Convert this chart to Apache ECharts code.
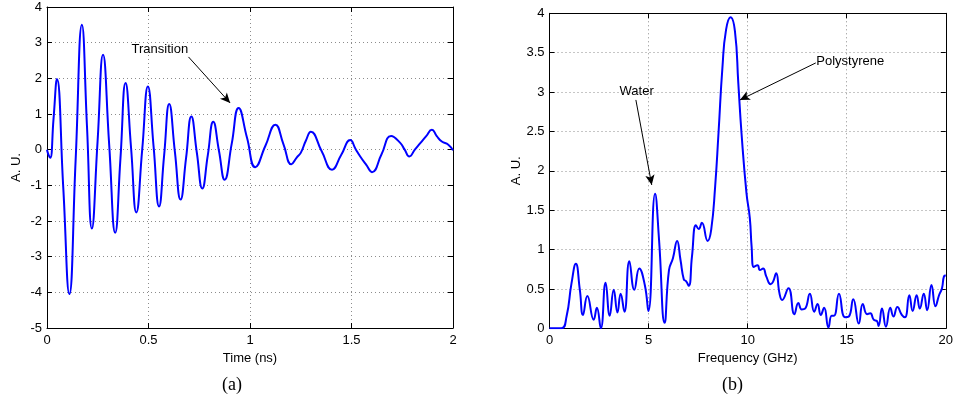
<!DOCTYPE html>
<html>
<head>
<meta charset="utf-8">
<script src="https://cdn.jsdelivr.net/npm/echarts@6/dist/echarts.min.js"></script>
<style>
  html, body { margin: 0; padding: 0; background: #fff; }
  #chart { width: 956px; height: 399px; }
</style>
</head>
<body>
<div id="chart"></div>
<script>
// (a) time signal
const timeNs = [0.000, 0.008, 0.016, 0.032, 0.049, 0.080, 0.110, 0.141, 0.172, 0.197, 0.221, 0.249, 0.276, 0.306,
  0.336, 0.362, 0.387, 0.414, 0.440, 0.469, 0.497, 0.525, 0.552, 0.577, 0.602, 0.630, 0.658, 0.685, 0.711, 0.738,
  0.765, 0.792, 0.819, 0.847, 0.875, 0.910, 0.944, 0.985, 1.026, 1.076, 1.125, 1.165, 1.204, 1.230, 1.250, 1.275,
  1.300, 1.352, 1.404, 1.449, 1.494, 1.520, 1.543, 1.572, 1.601, 1.648, 1.695, 1.740, 1.762, 1.785, 1.812, 1.840,
  1.868, 1.896, 1.920, 1.945, 1.977, 2.000];
const signalAU = [0.00, -0.15, -0.23, 0.85, 1.98, -1.05, -4.05, -0.30, 3.50, 0.65, -2.21, 0.22, 2.66, 0.17,
  -2.33, -0.23, 1.87, 0.06, -1.76, 0.00, 1.77, 0.09, -1.59, -0.16, 1.28, -0.06, -1.40, -0.24, 0.93, -0.08,
  -1.09, -0.16, 0.78, -0.03, -0.84, 0.17, 1.17, 0.34, -0.49, 0.11, 0.70, 0.15, -0.41, -0.22, -0.09, 0.25,
  0.50, -0.03, -0.56, -0.15, 0.27, 0.02, -0.19, -0.42, -0.63, -0.13, 0.38, 0.19, 0.00, -0.19, 0.00, 0.19,
  0.38, 0.56, 0.38, 0.23, 0.14, -0.02];

// (b) spectrum
const freqGHz = [0, 0.6, 0.86, 1.11, 1.33, 1.53, 1.69, 1.91, 2.23, 2.39, 2.59, 2.83, 3.04, 3.24, 3.43, 3.59, 3.78,
  4.03, 4.28, 4.53, 4.81, 4.99, 5.33, 5.53, 5.81, 6.03, 6.23, 6.44, 6.61, 6.78, 6.89, 7.03, 7.19, 7.39, 7.53,
  7.69, 7.98, 8.16, 8.36, 8.53, 8.73, 8.91, 9.14, 9.36, 9.53, 9.69, 9.94, 10.11, 10.2, 10.31, 10.5, 10.62,
  10.78, 10.94, 11.16, 11.28, 11.44, 11.61, 11.74, 12.06, 12.36, 12.56, 12.73, 12.9, 13.14, 13.36, 13.53,
  13.69, 13.86, 14.08, 14.24, 14.36, 14.61, 14.91, 15.11, 15.33, 15.61, 15.81, 16.03, 16.19, 16.36, 16.53,
  16.61, 16.78, 16.98, 17.2, 17.36, 17.56, 17.78, 17.94, 18.16, 18.33, 18.53, 18.69, 18.89, 19.06, 19.28,
  19.48, 19.66, 19.81, 19.91, 20];
const spectrumAU = [0, 0, 0.15, 0.57, 0.82, 0.49, 0.17, 0.41, 0.11, 0.26, 0.0, 0.58, 0.16, 0.49, 0.20, 0.44, 0.21,
  0.85, 0.49, 0.76, 0.55, 0.22, 1.71, 1.12, 0.07, 0.74, 0.89, 1.11, 0.87, 0.62, 0.60, 0.54, 0.91, 1.31, 1.26,
  1.34, 1.11, 1.25, 1.80, 2.48, 3.32, 3.79, 3.95, 3.77, 3.11, 2.48, 1.72, 1.40, 1.04, 0.78, 0.80, 0.74,
  0.76, 0.66, 0.56, 0.59, 0.70, 0.44, 0.36, 0.51, 0.18, 0.32, 0.24, 0.25, 0.44, 0.21, 0.31,
  0.17, 0.26, 0.01, 0.16, 0.16, 0.44, 0.14, 0.15, 0.37, 0.06, 0.31, 0.18, 0.19, 0.11, 0.09,
  0.03, 0.25, 0.02, 0.26, 0.15, 0.27, 0.17, 0.14, 0.42, 0.22, 0.42, 0.25, 0.44, 0.23, 0.55,
  0.28, 0.42, 0.51, 0.66, 0.67];

// annotations: [text, textX, textY, arrowFromX, arrowFromY, arrowToX, arrowToY]
const notesA = [['Transition', 0.556, 2.82, 0.697, 2.60, 0.902, 1.31]];
const notesB = [['Water', 4.4, 3.01, 4.36, 2.90, 5.16, 1.82],
                ['Polystyrene', 15.18, 3.39, 13.44, 3.37, 9.61, 2.90]];

const font = 'Liberation Sans, Arial, sans-serif';
const gridLine = { show: true, lineStyle: { color: '#8c8c8c', width: 1, type: [1, 3] } };
const frame = { show: true, onZero: false, lineStyle: { color: '#000', width: 1 } };
const tickIn = { show: true, inside: true, length: 5, lineStyle: { color: '#000' } };
const lbl = { color: '#000', fontSize: 13, fontFamily: font };

function xAxes(gi, max, interval, name) {
  return [
    { type: 'value', gridIndex: gi, min: 0, max: max, interval: interval, position: 'bottom',
      axisLine: frame, axisTick: tickIn, splitLine: gridLine,
      axisLabel: Object.assign({ margin: 6 }, lbl),
      name: name, nameLocation: 'middle', nameGap: 21, nameTextStyle: lbl },
    { type: 'value', gridIndex: gi, min: 0, max: max, interval: interval, position: 'top',
      axisLine: frame, axisTick: tickIn, splitLine: { show: false }, axisLabel: { show: false } }
  ];
}
function yAxes(gi, min, max, interval, gap) {
  return [
    { type: 'value', gridIndex: gi, min: min, max: max, interval: interval, position: 'left',
      axisLine: frame, axisTick: tickIn, splitLine: gridLine,
      axisLabel: Object.assign({ margin: 5 }, lbl),
      name: 'A. U.', nameLocation: 'middle', nameGap: gap, nameTextStyle: lbl },
    { type: 'value', gridIndex: gi, min: min, max: max, interval: interval, position: 'right',
      axisLine: frame, axisTick: tickIn, splitLine: { show: false }, axisLabel: { show: false } }
  ];
}

function notes(list) {
  return {
    markLine: {
      silent: true, symbol: ['none', 'arrow'], symbolSize: [7, 10],
      label: { show: false },
      lineStyle: { color: '#000', width: 1, type: 'solid' },
      data: list.map(n => [{ coord: [n[3], n[4]] }, { coord: [n[5], n[6]] }])
    },
    markPoint: {
      silent: true, symbol: 'rect', symbolSize: 1, itemStyle: { color: 'transparent' },
      label: Object.assign({ show: true, position: 'inside', formatter: p => p.name }, lbl),
      data: list.map(n => ({ name: n[0], coord: [n[1], n[2]] }))
    }
  };
}

const chart = echarts.init(document.getElementById('chart'));
chart.setOption({
  animation: false,
  backgroundColor: '#fff',
  grid: [
    { left: 47, top: 7, width: 406, height: 321 },
    { left: 549.5, top: 13.3, width: 400, height: 315 }
  ],
  xAxis: xAxes(0, 2, 0.5, 'Time (ns)').concat(xAxes(1, 20, 5, 'Frequency (GHz)')),
  yAxis: yAxes(0, -5, 4, 1, 24).concat(yAxes(1, 0, 4, 0.5, 27)),
  series: [
    Object.assign({
      type: 'line', xAxisIndex: 0, yAxisIndex: 0, smooth: 0.5, showSymbol: false,
      lineStyle: { color: '#0000ff', width: 2 },
      data: timeNs.map((t, i) => [t, signalAU[i]])
    }, notes(notesA)),
    Object.assign({
      type: 'line', xAxisIndex: 2, yAxisIndex: 2, smooth: 0.5, showSymbol: false,
      lineStyle: { color: '#0000ff', width: 2 },
      data: freqGHz.map((f, i) => [f, spectrumAU[i]])
    }, notes(notesB))
  ],
  graphic: [
    { type: 'text', left: 222, top: 376, style: { text: '(a)', fill: '#000', font: '18px "Liberation Serif", serif' } },
    { type: 'text', left: 722, top: 376, style: { text: '(b)', fill: '#000', font: '18px "Liberation Serif", serif' } }
  ]
});
</script>
</body>
</html>
